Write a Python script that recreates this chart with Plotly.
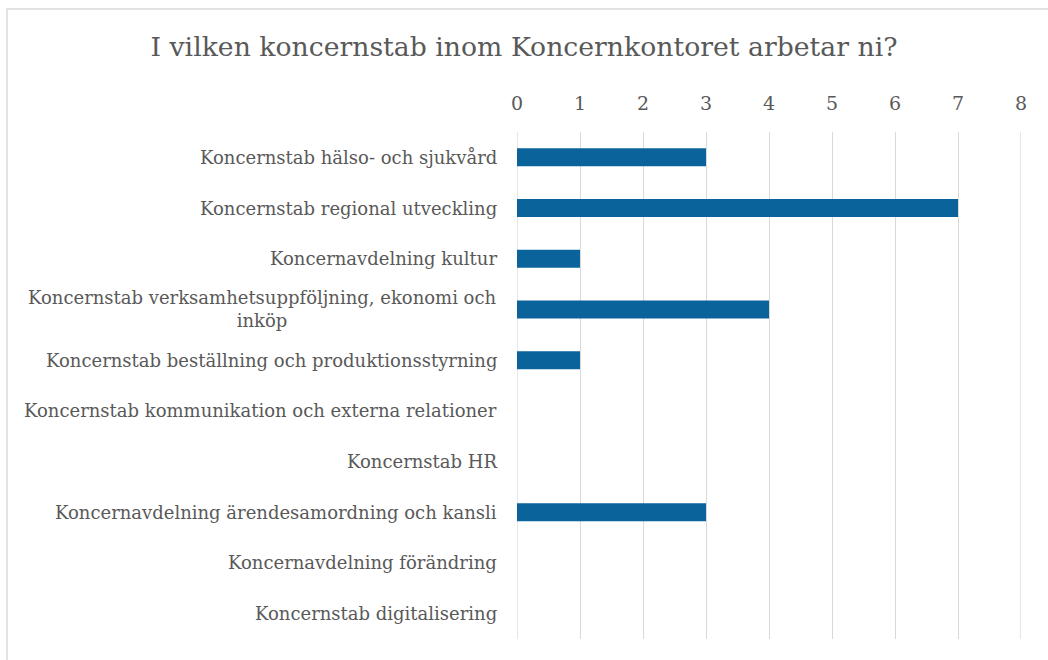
import plotly.graph_objects as go

categories = [
    "Koncernstab hälso- och sjukvård",
    "Koncernstab regional utveckling",
    "Koncernavdelning kultur",
    "Koncernstab verksamhetsuppföljning, ekonomi och<br>inköp",
    "Koncernstab beställning och produktionsstyrning",
    "Koncernstab kommunikation och externa relationer",
    "Koncernstab HR",
    "Koncernavdelning ärendesamordning och kansli",
    "Koncernavdelning förändring",
    "Koncernstab digitalisering",
]
values = [3, 7, 1, 4, 1, 0, 0, 3, 0, 0]
x_ticks = [0, 1, 2, 3, 4, 5, 6, 7, 8]

FONT = "DejaVu Serif"
GRAY = "#595959"
GRID = "#d9d9d9"
W, H = 1048, 660
L, R, T, B = 517, 27, 132, 21
pw, ph = W - L - R, H - T - B

fig = go.Figure()
fig.add_trace(go.Bar(
    y=categories, x=values, orientation="h",
    marker=dict(color="#0B639C", line=dict(width=0)),
    hoverinfo="x+y",
))

for c in categories:
    fig.add_annotation(
        x=0, xref="paper", xanchor="right", xshift=-18,
        y=c, yref="y", yanchor="middle",
        text=c, showarrow=False, align="center",
        font=dict(family=FONT, size=18, color=GRAY),
    )

# gridlines at the range edges (plotly omits them)
for xv in (x_ticks[0], x_ticks[-1]):
    fig.add_shape(type="line", xref="x", yref="paper", x0=xv, x1=xv, y0=0, y1=1,
                  line=dict(color=GRID, width=1.3), layer="below")

# outer light border
fig.add_shape(type="rect", xref="paper", yref="paper",
              x0=(7 - L) / pw, x1=(W + 5 - L) / pw,
              y0=(H - (H + 5) - B) / ph, y1=(H - 9 - B) / ph,
              line=dict(color=GRID, width=1.5), fillcolor="rgba(0,0,0,0)",
              layer="below")

fig.update_layout(
    width=W, height=H,
    margin=dict(l=L, r=R, t=T, b=B),
    paper_bgcolor="white", plot_bgcolor="white",
    bargap=0.645,
    showlegend=False,
    title=dict(text="I vilken koncernstab inom Koncernkontoret arbetar ni?",
               x=0.5, xanchor="center", y=1 - 47 / H, yanchor="middle",
               font=dict(family=FONT, size=26.7, color=GRAY)),
    xaxis=dict(side="top", range=[x_ticks[0], x_ticks[-1]], tickvals=x_ticks,
               showgrid=True, gridcolor=GRID, gridwidth=1.3,
               zeroline=False, showline=False, ticks="",
               ticklabelstandoff=17,
               tickfont=dict(family=FONT, size=19, color=GRAY)),
    yaxis=dict(autorange="reversed", showticklabels=False, showgrid=False,
               zeroline=False, showline=False, ticks=""),
)

fig.write_html("out.html", config={"displayModeBar": False},
               post_script="document.body.style.margin='0';document.body.style.overflow='hidden';")
